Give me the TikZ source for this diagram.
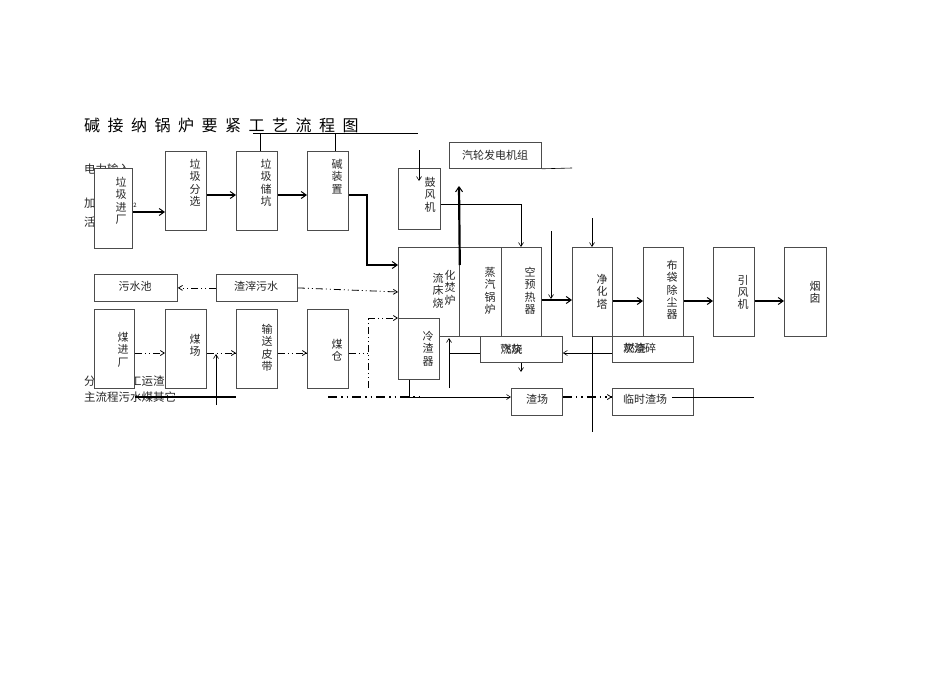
\documentclass[tikz,border=0pt]{standalone}
\usepackage{fontspec}
\setmainfont{Noto Sans CJK SC}
\usetikzlibrary{arrows.meta}
\tikzset{
  box/.style={draw=black!70, fill=white, line width=0.8pt},
  vt/.style={inner sep=0pt, align=center, anchor=north, font=\fontsize{11}{12.3}\selectfont, text=black!85},
  ht/.style={inner sep=0pt, font=\fontsize{11}{12}\selectfont, text=black!85},
  lg/.style={inner sep=0pt, anchor=west, font=\fontsize{11.5}{12}\selectfont, text=black!85},
  thin/.style={draw=black, line width=0.6pt},
  tarr/.style={thin, -{Straight Barb[length=4pt,width=5pt]}},
  thk/.style={draw=black, line width=2.2pt},
  thkarr/.style={thk, -{Straight Barb[length=5pt,width=7pt,line width=1pt]}},
  dd/.style={draw=black, line width=0.8pt, dash pattern=on 7pt off 3pt on 1pt off 3pt on 1pt off 3pt},
  ddarr/.style={dd, -{Straight Barb[length=4pt,width=5pt]}},
  ddthk/.style={draw=black, line width=1.6pt, dash pattern=on 9pt off 4pt on 1.5pt off 4pt on 1.5pt off 4pt},
}
\newcommand{\ovl}[2]{\rlap{\hspace{0.6pt}\raisebox{-0.3pt}{#1}}#2}
\begin{document}
\begin{tikzpicture}[x=1pt,y=-1pt]
\useasboundingbox (0,0) rectangle (950,672);
% title
\node[inner sep=0pt, anchor=west, font=\fontsize{16}{16}\selectfont] (title) at (84,125) {碱\hspace{7.5pt}接\hspace{7.5pt}纳\hspace{7.5pt}锅\hspace{7.5pt}炉\hspace{7.5pt}要\hspace{7.5pt}紧\hspace{7.5pt}工\hspace{7.5pt}艺\hspace{7.5pt}流\hspace{7.5pt}程\hspace{7.5pt}图};
\coordinate (tl1) at (253,133);
\coordinate (tl2) at (418,133);
\draw[thin, line width=0.7pt] (tl1) -- (tl2);
% legend texts (partly covered)
\node[lg] (lg1) at (84,169) {电力输入};
\node[lg] (lg2) at (84,203) {加};
\node[lg] (lg3) at (84,222) {活};
\node[inner sep=0pt, font=\fontsize{6}{6}\selectfont] (lg4) at (135,205) {2};
\node[lg] (lg5) at (84,381) {分选后人工运渣};
\node[lg] (lg6) at (84,397) {主流程污水煤其它};
% boxes
\node[box, minimum width=38pt, minimum height=80pt, anchor=north west, inner sep=0pt] (ljjc) at (94,168) {};
\node[box, minimum width=41pt, minimum height=79pt, anchor=north west, inner sep=0pt] (ljfx) at (165,151) {};
\node[box, minimum width=41pt, minimum height=79pt, anchor=north west, inner sep=0pt] (ljcc) at (236,151) {};
\node[box, minimum width=41pt, minimum height=79pt, anchor=north west, inner sep=0pt] (jzz) at (307,151) {};
\node[box, minimum width=42pt, minimum height=61pt, anchor=north west, inner sep=0pt] (gfj) at (398,168) {};
\node[box, minimum width=92pt, minimum height=26pt, anchor=north west, inner sep=0pt] (qlf) at (449,142) {};
\node[box, minimum width=61pt, minimum height=89pt, anchor=north west, inner sep=0pt] (lhc) at (398,247) {};
\node[box, minimum width=42pt, minimum height=89pt, anchor=north west, inner sep=0pt] (zqgl) at (459,247) {};
\node[box, minimum width=40pt, minimum height=89pt, anchor=north west, inner sep=0pt] (kyr) at (501,247) {};
\node[box, minimum width=41pt, minimum height=61pt, anchor=north west, inner sep=0pt] (lzq) at (398,318) {};
\node[box, minimum width=82pt, minimum height=26pt, anchor=north west, inner sep=0pt] (rr1) at (480,336) {};
\node[box, minimum width=40pt, minimum height=89pt, anchor=north west, inner sep=0pt] (jht) at (572,247) {};
\node[box, minimum width=40pt, minimum height=89pt, anchor=north west, inner sep=0pt] (bdc) at (643,247) {};
\node[box, minimum width=41pt, minimum height=89pt, anchor=north west, inner sep=0pt] (yfj) at (713,247) {};
\node[box, minimum width=42pt, minimum height=89pt, anchor=north west, inner sep=0pt] (yc) at (784,247) {};
\node[box, minimum width=81pt, minimum height=26pt, anchor=north west, inner sep=0pt] (rr2) at (612,336) {};
\node[box, minimum width=51pt, minimum height=27pt, anchor=north west, inner sep=0pt] (zc) at (511,388) {};
\node[box, minimum width=81pt, minimum height=27pt, anchor=north west, inner sep=0pt] (lszc) at (612,388) {};
\node[box, minimum width=83pt, minimum height=27pt, anchor=north west, inner sep=0pt] (wsc) at (94,274) {};
\node[box, minimum width=81pt, minimum height=27pt, anchor=north west, inner sep=0pt] (zzws) at (216,274) {};
\node[box, minimum width=40pt, minimum height=79pt, anchor=north west, inner sep=0pt] (mjc) at (94,309) {};
\node[box, minimum width=41pt, minimum height=79pt, anchor=north west, inner sep=0pt] (mc) at (165,309) {};
\node[box, minimum width=41pt, minimum height=79pt, anchor=north west, inner sep=0pt] (ssdp) at (236,309) {};
\node[box, minimum width=41pt, minimum height=79pt, anchor=north west, inner sep=0pt] (mcang) at (307,309) {};
% box texts
\node[vt] (t-ljjc) at (121,177) {垃\\圾\\进\\厂};
\node[vt] (t-ljfx) at (195,159) {垃\\圾\\分\\选};
\node[vt] (t-ljcc) at (266,159) {垃\\圾\\储\\坑};
\node[vt] (t-jzz) at (337,159) {碱\\装\\置};
\node[vt] (t-gfj) at (430,177) {鼓\\风\\机};
\node[ht] (t-qlf) at (495,155) {汽轮发电机组};
\node[vt] (t-lhc1) at (438,273) {流\\床\\烧};
\node[vt] (t-lhc2) at (450,270) {化\\焚\\炉};
\node[vt] (t-zqgl) at (490,267) {蒸\\汽\\锅\\炉};
\node[vt] (t-kyr) at (530,267) {空\\预\\热\\器};
\node[vt] (t-lzq) at (428,331) {冷\\渣\\器};
\node[ht] (t-rr1) at (511,349) {\ovl{燃烧}{飞灰}};
\node[vt] (t-jht) at (602,274) {净\\化\\塔};
\node[vt] (t-bdc) at (672,260) {布\\袋\\除\\尘\\器};
\node[vt] (t-yfj) at (743,275) {引\\风\\机};
\node[vt] (t-yc) at (815,281) {烟\\囱};
\node[ht, anchor=west] (t-rr2) at (623,348) {\ovl{燃烧}{灰渣}碎};
\node[ht] (t-zc) at (537,399) {渣场};
\node[ht] (t-lszc) at (645,399) {临时渣场};
\node[ht] (t-wsc) at (135,286) {污水池};
\node[ht] (t-zzws) at (256,286) {渣滓污水};
\node[vt] (t-mjc) at (123,332) {煤\\进\\厂};
\node[vt] (t-mc) at (195,334) {煤\\场};
\node[vt] (t-ssdp) at (267,324) {输\\送\\皮\\带};
\node[vt] (t-mcang) at (337,339) {煤\\仓};
% connectors top
\draw[thin, line width=0.7pt] (tl1 -| ljcc.north) ++(3pt,0) coordinate (v1) -- (v1 |- ljcc.north);
\draw[thin, line width=0.7pt] (tl1 -| jzz.north) ++(7pt,0) coordinate (v2) -- (v2 |- jzz.north);
\draw[thkarr] (ljjc.east |- 0,212) -- (ljfx.west |- 0,212);
\draw[thkarr] (ljfx.east |- 0,195) -- (ljcc.west |- 0,195);
\draw[thkarr] (ljcc.east |- 0,195) -- (jzz.west |- 0,195);
\draw[thkarr] (jzz.east |- 0,195) -| (367,265) -- (lhc.west |- 0,265);
% 鼓风机 and boiler
\coordinate (gfin) at (419,150);
\draw[tarr] (gfin) -- (419,181);
\draw[tarr] (gfj.east |- 0,204) -| (kyr.north -| 521,0);
\coordinate (thtop) at (459,186);
\draw[thkarr] (lhc.north east |- 0,265) -- (thtop);
\coordinate (qlend) at (572,168);
\draw[thin] (qlf.south east) -- (qlend);
\coordinate (kin) at (551,231);
\draw[tarr] (kin) -- (551,299);
\draw[thkarr] (kyr.east |- 0,300) -- (jht.west |- 0,300);
\coordinate (jin) at (592,218);
\draw[tarr] (jin) -- (jht.north -| 592,0);
\coordinate (jbot) at (592,432);
\draw[thin] (jht.south -| 592,0) -- (jbot);
\draw[thkarr] (jht.east |- 0,301) -- (bdc.west |- 0,301);
\draw[thkarr] (bdc.east |- 0,301) -- (yfj.west |- 0,301);
\draw[thkarr] (yfj.east |- 0,301) -- (yc.west |- 0,301);
% ash/slag
\coordinate (upb) at (449,388);
\draw[tarr] (upb) -- (449,338);
\draw[thin] (449,353) -- (rr1.west |- 0,353);
\coordinate (rrd) at (521,372);
\draw[tarr] (rr1.south -| 521,0) -- (rrd);
\draw[tarr] (rr2.west |- 0,353) -- (rr1.east |- 0,353);
\coordinate (ddl) at (328,397);
\draw[ddthk] (ddl) -- (420,397);
\draw[tarr] (lzq.south -| 409,0) |- (zc.west |- 0,397);
\draw[ddthk, -{Straight Barb[length=4pt,width=5pt,line width=0.8pt]}] (zc.east |- 0,397) -- (lszc.west |- 0,397);
\coordinate (lsend) at (754,397);
\draw[thin] (672,397) -- (lsend);
% water
\draw[ddarr] (zzws.west) -- (wsc.east);
\draw[ddarr] (zzws.east) -- (lhc.west |- 0,292);
% coal
\draw[ddarr] (mjc.east |- 0,353) -- (mc.west |- 0,353);
\draw[ddarr] (mc.east |- 0,353) -- (ssdp.west |- 0,353);
\draw[ddarr] (ssdp.east |- 0,353) -- (mcang.west |- 0,353);
\draw[dd] (mcang.east |- 0,353) -- (368,353);
\coordinate (cb) at (368,388);
\draw[dd] (cb) -- (368,318);
\draw[ddarr] (368,318) -- (lzq.west |- 0,318);
\coordinate (cup) at (216,405);
\draw[tarr] (cup) -- (216,354);
\coordinate (lgl) at (135,397);
\draw[thk, line width=2.4pt] (lgl) -- (236,397);
\end{tikzpicture}
\end{document}
